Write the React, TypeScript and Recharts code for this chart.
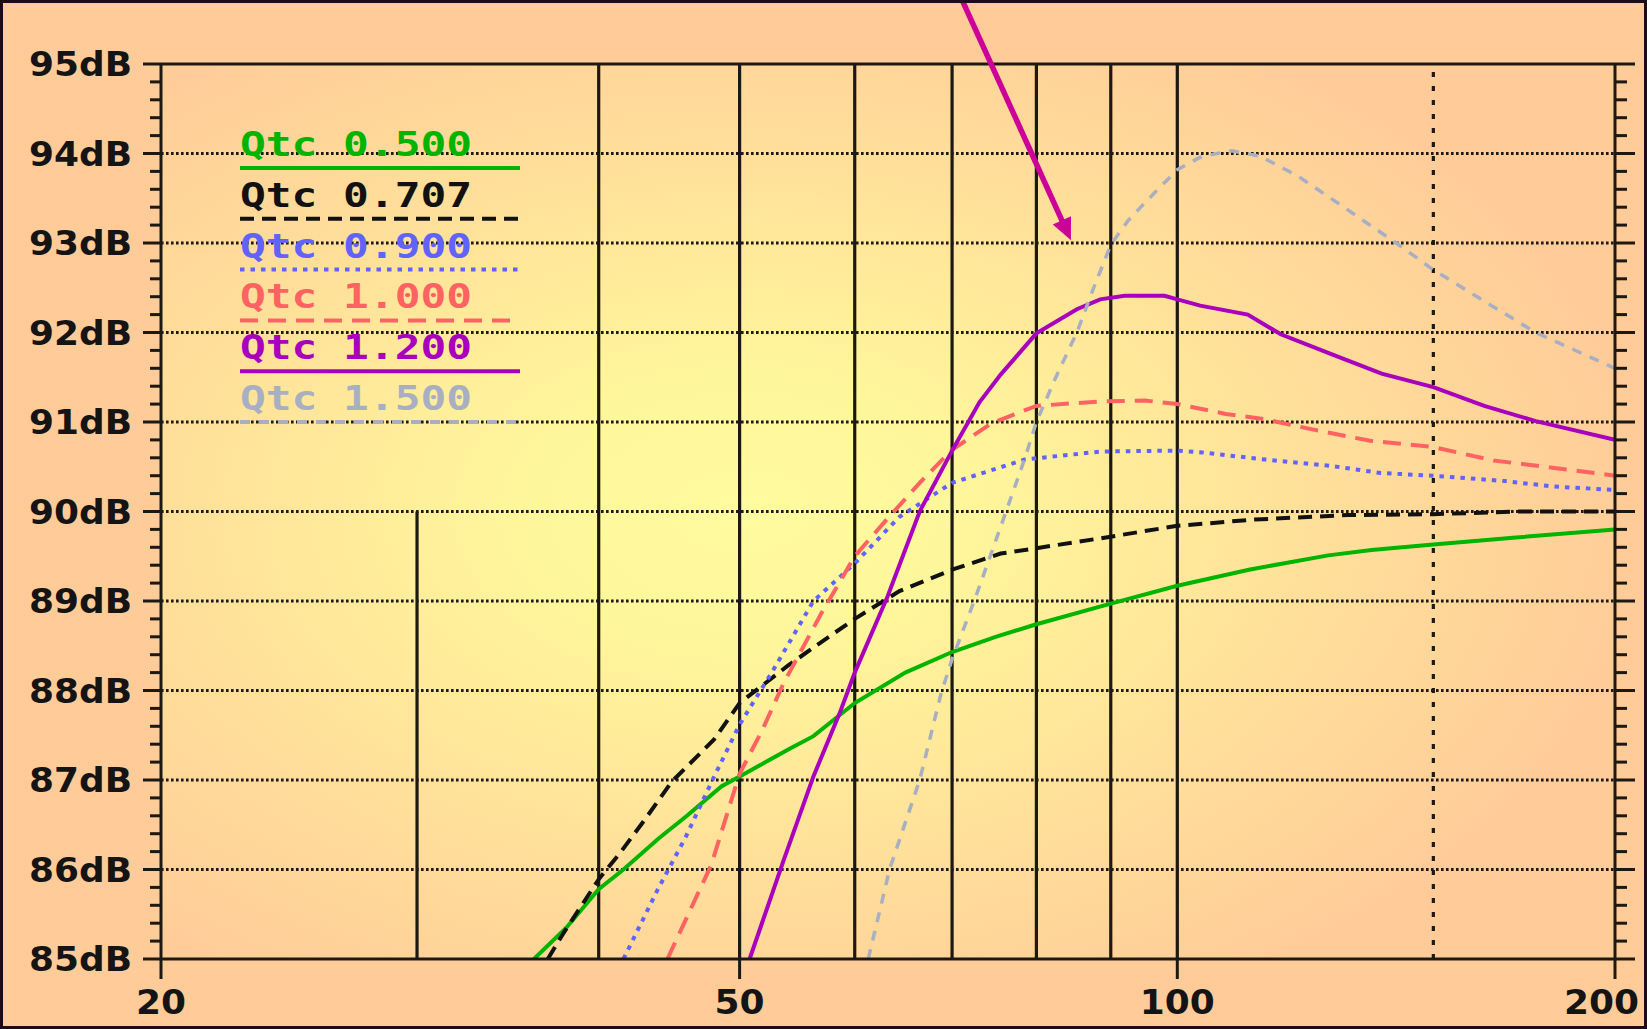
import React from 'react';
import { LineChart, Line, XAxis, YAxis, ReferenceLine, ReferenceArea, Legend } from 'recharts';

// axes
const FREQ_TICKS = [20, 50, 100, 200];
const DB_TICKS = [85, 86, 87, 88, 89, 90, 91, 92, 93, 94, 95];
const DB_GRID = [86, 87, 88, 89, 90, 91, 92, 93, 94];
const SOLID_FREQ_LINES = [40, 50, 60, 70, 80, 90, 100];
const DOTTED_FREQ_LINES = [150];
const SHORT_FREQ_LINE = { f: 30, from: 85, to: 90 };

// arrow annotation (freq, dB) – starts above the plot
const ARROW_FROM = { f: 71.1, db: 95.72 };
const ARROW_TO = { f: 84.5, db: 93.03 };

// [frequency Hz, level dB]
const qtc0500 = [
  [36.1, 85.0], [38, 85.35], [40, 85.78], [41.6, 86.0], [44, 86.35], [46, 86.6], [48.6, 86.93],
  [50, 87.04], [54, 87.34], [56.2, 87.49], [60, 87.86], [65, 88.2], [70, 88.43], [75, 88.6],
  [80, 88.74], [90, 88.97], [100, 89.17], [112, 89.35], [127, 89.51], [136, 89.57], [150, 89.63],
  [171, 89.71], [200, 89.8],
];
const qtc0707 = [
  [36.9, 85.0], [37.8, 85.28], [40, 85.89], [41.4, 86.19], [43, 86.55], [44.9, 86.98], [48, 87.45],
  [50, 87.86], [54, 88.28], [57, 88.55], [60, 88.8], [64.4, 89.11], [70, 89.35], [75.6, 89.53],
  [80, 89.59], [88.5, 89.7], [100, 89.84], [113, 89.91], [131, 89.96], [150, 89.97], [172, 90.0],
  [200, 90.0],
];
const qtc0900 = [
  [41.6, 85.0], [43.9, 85.77], [45.9, 86.36], [47.9, 87.0], [50, 87.62], [52.7, 88.22],
  [56.2, 89.0], [60, 89.42], [64.4, 89.94], [70, 90.32], [78.5, 90.58], [88.5, 90.67], [100, 90.68],
  [104, 90.66], [115, 90.58], [127.5, 90.51], [138, 90.43], [150, 90.4], [168, 90.34], [181, 90.28],
  [200, 90.24],
];
const qtc1000 = [
  [44.6, 85.0], [47.8, 86.05], [50, 87.07], [51.8, 87.55], [53.6, 88.08], [56.9, 88.86], [60, 89.5],
  [62.8, 89.87], [66.5, 90.32], [70, 90.69], [74.6, 90.99], [80, 91.18], [88.5, 91.23], [95, 91.24],
  [100, 91.2], [108, 91.09], [115, 91.03], [123.6, 90.92], [135.7, 90.79], [150, 90.72], [165, 90.57],
  [181, 90.49], [200, 90.4],
];
const qtc1200 = [
  [50.8, 85.0], [53.6, 86.1], [56.2, 87.04], [58.6, 87.75], [60, 88.2], [63.2, 89.05], [66.5, 90.0],
  [70, 90.68], [73.1, 91.22], [75.6, 91.53], [80, 91.99], [85.3, 92.26], [88.5, 92.37], [92, 92.41],
  [98, 92.41], [100, 92.37], [103.7, 92.3], [111.8, 92.2], [117.8, 91.98], [127.5, 91.76],
  [138.2, 91.54], [150, 91.39], [162.6, 91.18], [176.4, 91.01], [200, 90.8],
];
const qtc1500 = [
  [61.3, 85.0], [63.4, 86.0], [66.5, 87.0], [68.8, 87.97], [70, 88.35], [72.5, 89.0], [75.6, 89.83],
  [78.5, 90.58], [80, 91.0], [82.5, 91.5], [85.3, 92.0], [87.6, 92.5], [90, 92.98], [92.5, 93.25],
  [95, 93.45], [100, 93.82], [104, 93.97], [109, 94.03], [114, 93.97], [121, 93.75], [131, 93.37],
  [142, 92.98], [150, 92.7], [162.6, 92.35], [176.4, 92.0], [200, 91.6],
];

const SERIES = [
  { name: 'Qtc 0.500', color: '#00b400', dash: undefined, width: 4, rows: qtc0500 },
  { name: 'Qtc 0.707', color: '#111111', dash: '14 8', width: 4, rows: qtc0707 },
  { name: 'Qtc 0.900', color: '#6262ff', dash: '4.5 6', width: 4, rows: qtc0900 },
  { name: 'Qtc 1.000', color: '#ff6262', dash: '18 10', width: 4, rows: qtc1000 },
  { name: 'Qtc 1.200', color: '#a800bc', dash: undefined, width: 4, rows: qtc1200 },
  { name: 'Qtc 1.500', color: '#a9afc2', dash: '10 9', width: 3.5, rows: qtc1500 },
];

const INK = '#1c1812';
const FONT = '"DejaVu Sans", Verdana, sans-serif';

const minorTicks: number[] = [];
for (let i = 0; i <= 50; i++) minorTicks.push(Math.round((85 + i * 0.2) * 10) / 10);

const toPoints = (rows: number[][]) => rows.map(([f, db]) => ({ f, db }));

const isMajor = (v: number) => Math.abs(v - Math.round(v)) < 1e-6;

const LeftTick = ({ x, y, payload }: any) => {
  const v = payload.value;
  const major = isMajor(v);
  return (
    <g>
      <line x1={x - (major ? 18 : 11)} x2={x} y1={y} y2={y} stroke={INK} strokeWidth={3} />
      {major && DB_TICKS.includes(v) && (
        <text x={x - 29} y={y + 12} textAnchor="end" fontFamily={FONT} fontWeight="bold" fontSize={33}
          fill="#141414" textLength={103} lengthAdjust="spacingAndGlyphs">{`${v}dB`}</text>
      )}
    </g>
  );
};

const RightTick = ({ x, y, payload }: any) => {
  const major = isMajor(payload.value);
  return <line x1={x} x2={x + (major ? 20 : 12)} y1={y} y2={y} stroke={INK} strokeWidth={3} />;
};

const BottomTick = ({ x, y, payload }: any) => {
  const label = String(payload.value);
  const last = payload.value === FREQ_TICKS[FREQ_TICKS.length - 1];
  return (
    <g>
      <line x1={x} x2={x} y1={y} y2={y + 20} stroke={INK} strokeWidth={3} />
      <text x={last ? x + 24 : x} y={y + 55} textAnchor={last ? 'end' : 'middle'} fontFamily={FONT}
        fontWeight="bold" fontSize={33} fill="#141414" textLength={label.length * 25}
        lengthAdjust="spacingAndGlyphs">{label}</text>
    </g>
  );
};

const ArrowShape = (p: any) => {
  const { x1, y1, x2, y2 } = p;
  const dx = x2 - x1;
  const dy = y2 - y1;
  const len = Math.hypot(dx, dy) || 1;
  const ux = dx / len;
  const uy = dy / len;
  const head = 22;
  const half = 10;
  const bx = x2 - ux * head;
  const by = y2 - uy * head;
  return (
    <g>
      <line x1={x1} y1={y1} x2={bx + ux * 2} y2={by + uy * 2} stroke="#cc0099" strokeWidth={5.5} />
      <polygon points={`${x2},${y2} ${bx - uy * half},${by + ux * half} ${bx + uy * half},${by - ux * half}`} fill="#cc0099" />
    </g>
  );
};

const LegendBox = () => (
  <svg width={600} height={440} style={{ display: 'block' }}>
    {SERIES.map((s, i) => {
      const cy = 144 + i * 50.8;
      return (
        <g key={s.name}>
          <text x={240} y={cy + 12} fontFamily={'"DejaVu Sans Mono", monospace'} fontWeight="bold" fontSize={33}
            fill={s.color} textLength={232} lengthAdjust="spacingAndGlyphs">{s.name}</text>
          <line x1={240} x2={520} y1={cy + 24} y2={cy + 24} stroke={s.color} strokeWidth={4} strokeDasharray={s.dash} />
        </g>
      );
    })}
  </svg>
);

export default function App() {
  return (
    <div style={{ position: 'absolute', left: 0, top: 0, width: 1647, height: 1029, background: '#ffcc99', overflow: 'hidden' }}>
      <LineChart width={1647} height={1029} margin={{ top: 64, right: 0, bottom: 0, left: 0 }}>
        <defs>
          <radialGradient id="plotBg" cx="0.4" cy="0.5" r="0.62">
            <stop offset="0" stopColor="#fffb9e" />
            <stop offset="0.25" stopColor="#fff69b" />
            <stop offset="0.65" stopColor="#ffdf9a" />
            <stop offset="1" stopColor="#ffcc99" />
          </radialGradient>
        </defs>
        <XAxis type="number" dataKey="f" scale="log" domain={[20, 200]} allowDataOverflow ticks={FREQ_TICKS}
          interval={0} height={70} tickSize={0} tickMargin={0} tick={BottomTick} tickLine={false}
          axisLine={{ stroke: INK, strokeWidth: 3 }} />
        <YAxis yAxisId="l" type="number" domain={[85, 95]} allowDataOverflow ticks={minorTicks} interval={0}
          width={161} tickSize={0} tickMargin={0} tick={LeftTick} tickLine={false}
          axisLine={{ stroke: INK, strokeWidth: 3 }} />
        <YAxis yAxisId="r" orientation="right" type="number" domain={[85, 95]} allowDataOverflow ticks={minorTicks}
          interval={0} width={32} tickSize={0} tickMargin={0} tick={RightTick} tickLine={false}
          axisLine={{ stroke: INK, strokeWidth: 3 }} />

        <ReferenceArea yAxisId="l" x1={20} x2={200} y1={85} y2={95} fill="url(#plotBg)" fillOpacity={1} stroke="none" />

        {DB_GRID.map((d) => (
          <ReferenceLine key={`h${d}`} yAxisId="l" y={d} stroke={INK} strokeWidth={3} strokeDasharray="2.6 2.4" />
        ))}
        <ReferenceLine yAxisId="l" y={95} stroke={INK} strokeWidth={3} />
        {SOLID_FREQ_LINES.map((f) => (
          <ReferenceLine key={`v${f}`} yAxisId="l" x={f} stroke={INK} strokeWidth={3.2} />
        ))}
        {DOTTED_FREQ_LINES.map((f) => (
          <ReferenceLine key={`d${f}`} yAxisId="l" x={f} stroke={INK} strokeWidth={3.2} strokeDasharray="5 9" />
        ))}
        <ReferenceLine yAxisId="l" segment={[{ x: SHORT_FREQ_LINE.f, y: SHORT_FREQ_LINE.from }, { x: SHORT_FREQ_LINE.f, y: SHORT_FREQ_LINE.to }]}
          stroke={INK} strokeWidth={3.2} />

        {SERIES.map((s) => (
          <Line key={s.name} yAxisId="l" data={toPoints(s.rows)} dataKey="db" name={s.name} type="linear"
            stroke={s.color} strokeWidth={s.width} strokeDasharray={s.dash} dot={false} activeDot={false}
            isAnimationActive={false} />
        ))}

        <ReferenceLine yAxisId="l" ifOverflow="visible"
          segment={[{ x: ARROW_FROM.f, y: ARROW_FROM.db }, { x: ARROW_TO.f, y: ARROW_TO.db }]}
          shape={ArrowShape} />

        <Legend layout="horizontal" verticalAlign="middle" align="center"
          wrapperStyle={{ position: 'absolute', left: 0, top: 0, width: 600, height: 440 }}
          content={() => <LegendBox />} />
      </LineChart>
      <div style={{ position: 'absolute', inset: 0, border: '3px solid #1c0c18', boxSizing: 'border-box', pointerEvents: 'none' }} />
    </div>
  );
}
